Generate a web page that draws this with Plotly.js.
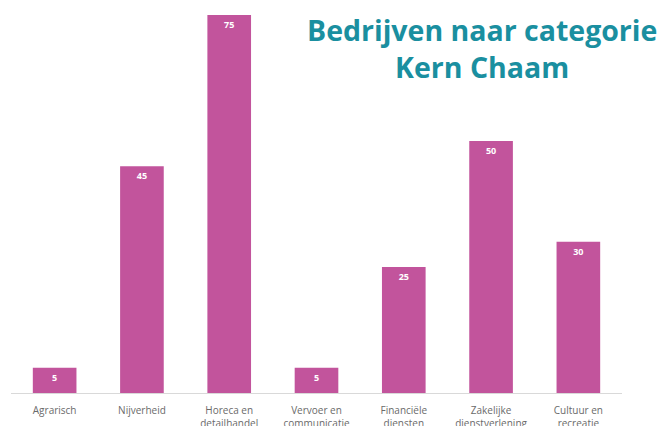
<!DOCTYPE html>
<html>
<head>
<meta charset="utf-8">
<script src="https://cdn.plot.ly/plotly-3.0.1.min.js"></script>
<style>
  html, body { margin: 0; padding: 0; background: #fff; }
  #chart { width: 657px; height: 426px; }
</style>
</head>
<body>
<div id="chart"></div>
<script>
// categories (two-line labels) and number of companies
var categories = [
  "Agrarisch",
  "Nijverheid",
  "Horeca en<br>detailhandel",
  "Vervoer en<br>communicatie",
  "Financiële<br>diensten",
  "Zakelijke<br>dienstverlening",
  "Cultuur en<br>recreatie"
];
var companies = [5, 45, 75, 5, 25, 50, 30];

var trace = {
  x: categories,
  y: companies,
  type: "bar",
  marker: { color: "#c2549c" },
  text: companies.map(String),
  textposition: "inside",
  insidetextanchor: "end",
  textangle: 0,
  constraintext: "none",
  textfont: { family: "Open Sans", size: 9, color: "#ffffff", weight: "bold" },
  hoverinfo: "none"
};

var layout = {
  width: 657,
  height: 426,
  margin: { l: 11, r: 35, t: 15, b: 33 },
  paper_bgcolor: "#ffffff",
  plot_bgcolor: "#ffffff",
  showlegend: false,
  bargap: 0.5,
  font: { family: "Open Sans", color: "#666666", size: 10 },
  xaxis: {
    showgrid: false,
    showline: true,
    linecolor: "#d9d9d9",
    linewidth: 1,
    ticks: "outside",
    ticklen: 8,
    tickcolor: "rgba(0,0,0,0)",
    tickfont: { size: 10, color: "#6a6a6a" }
  },
  yaxis: {
    range: [0, 75],
    showgrid: false,
    zeroline: false,
    showticklabels: false,
    ticks: ""
  },
  annotations: [{
    text: "<b>Bedrijven naar categorie<br>Kern Chaam</b>",
    xref: "paper", yref: "paper",
    x: 0.771, y: 1.015,
    xanchor: "center", yanchor: "top",
    showarrow: false,
    font: { family: "Open Sans", size: 28.5, color: "#1a8fa0" },
    align: "center"
  }]
};

Plotly.newPlot("chart", [trace], layout, { displayModeBar: false, staticPlot: true });
</script>
</body>
</html>
